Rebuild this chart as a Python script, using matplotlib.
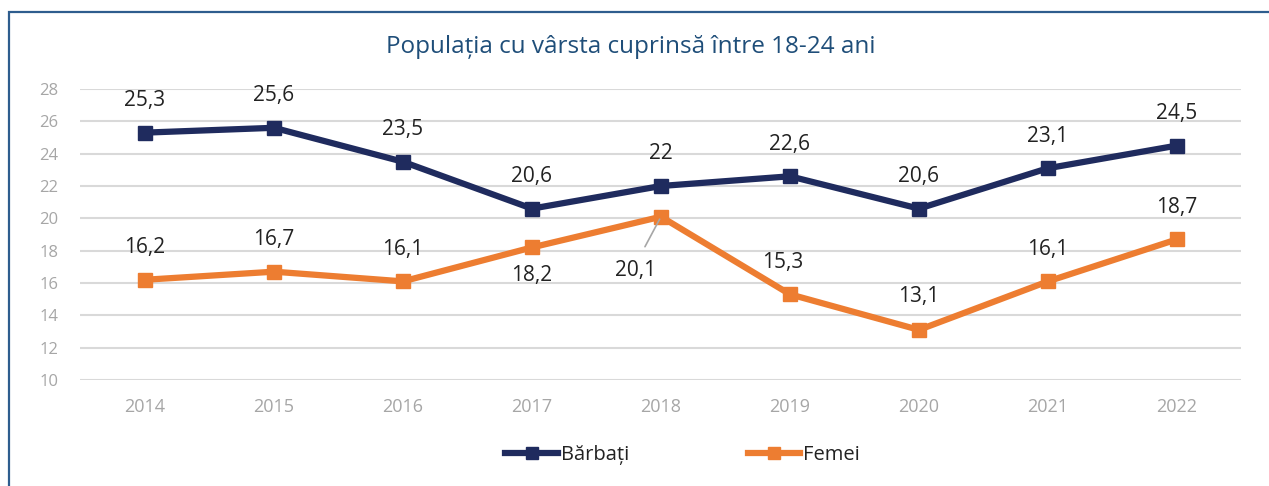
import matplotlib.pyplot as plt
from matplotlib.patches import Rectangle

years = ['2014', '2015', '2016', '2017', '2018', '2019', '2020', '2021', '2022']
barbati = [25.3, 25.6, 23.5, 20.6, 22.0, 22.6, 20.6, 23.1, 24.5]
femei = [16.2, 16.7, 16.1, 18.2, 20.1, 15.3, 13.1, 16.1, 18.7]
barbati_txt = ['25,3', '25,6', '23,5', '20,6', '22', '22,6', '20,6', '23,1', '24,5']
femei_txt = ['16,2', '16,7', '16,1', '18,2', '20,1', '15,3', '13,1', '16,1', '18,7']
# label offset in pixels for the Femei series
femei_off = [(0, 32), (0, 32), (0, 32), (0, -28), (-25, -54), (-7, 32), (0, 33), (0, 32), (0, 32)]

navy = '#1f2b5e'
orange = '#ed7d31'

plt.rcParams['font.family'] = ['Open Sans', 'DejaVu Sans']

fig = plt.figure(figsize=(12.69, 4.86), dpi=100)
ax = fig.add_axes([0.0634, 0.2181, 0.9149, 0.5988])

x = list(range(len(years)))
ax.plot(x, barbati, color=navy, lw=4.5, marker='s', ms=10, label='Bărbați', zorder=3)
ax.plot(x, femei, color=orange, lw=4.5, marker='s', ms=10, label='Femei', zorder=3)

for i, (v, t) in enumerate(zip(barbati, barbati_txt)):
    ax.annotate(t, (i, v), xytext=(0, 32), textcoords='offset pixels',
                ha='center', va='center', fontsize=15, color='#222222')
for i, (v, t) in enumerate(zip(femei, femei_txt)):
    ax.annotate(t, (i, v), xytext=femei_off[i], textcoords='offset pixels',
                ha='center', va='center', fontsize=15, color='#222222')
# leader line for 2018
ax.annotate('', (4, femei[4]), xytext=(-16, -30), textcoords='offset pixels',
            arrowprops=dict(arrowstyle='-', color='#a6a6a6', lw=1.2, shrinkA=0, shrinkB=2))

ax.set_xlim(-0.5, len(years) - 0.5)
ax.set_ylim(10, 28)
ax.set_yticks(range(10, 29, 2))
ax.set_xticks(x)
ax.set_xticklabels(years)
ax.tick_params(length=0, colors='#a6a6a6', labelsize=12)
ax.tick_params(axis='x', pad=13, labelsize=13)
ax.tick_params(axis='y', pad=16)
ax.grid(axis='y', color='#d9d9d9', lw=1.5)
ax.set_axisbelow(True)
for s in ax.spines.values():
    s.set_visible(False)

fig.text(0.497, 0.903, 'Populația cu vârsta cuprinsă între 18-24 ani',
         ha='center', va='center', fontsize=17.5, color='#1f4e79')

leg = fig.legend(loc='center', bbox_to_anchor=(0.538, 0.064), ncol=2, frameon=False,
                 fontsize=14.5, handlelength=2.6, handletextpad=0.15, columnspacing=5.9,
                 markerscale=0.9)
for t in leg.get_texts():
    t.set_color('#222222')

# frame
fig.patches.append(Rectangle((9 / 1269, -0.1), 1.2, 1 - 12 / 486 + 0.1, transform=fig.transFigure,
                             fill=False, edgecolor='#2e5d8e', lw=1.6))

fig.savefig('out.png', dpi=100)
